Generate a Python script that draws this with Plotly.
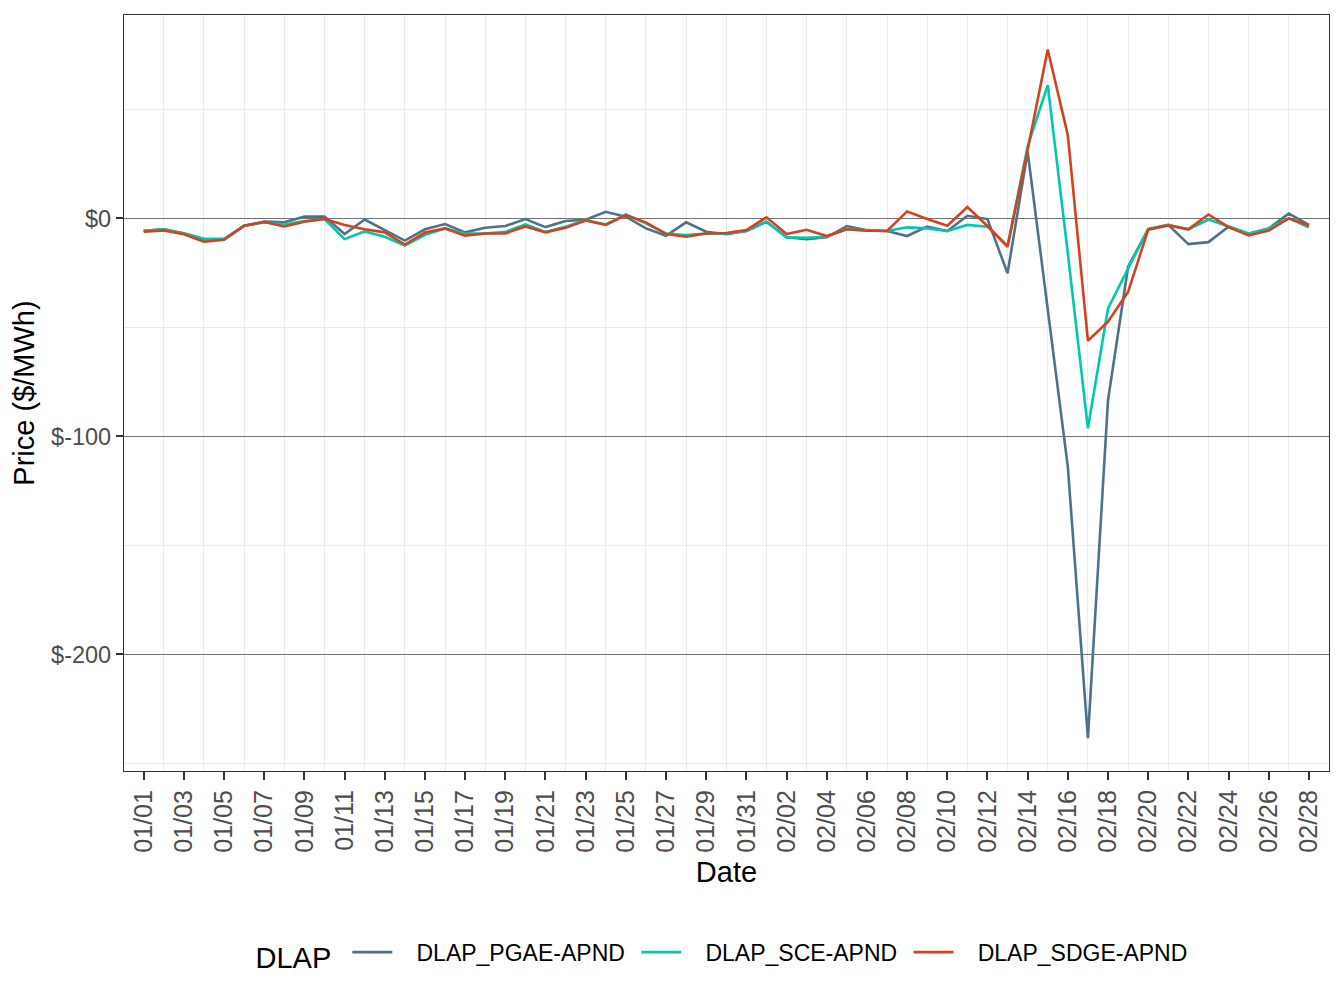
import pandas as pd
import plotly.graph_objects as go

# ---------- data (daily prices, $/MWh) ----------
dates = pd.date_range("2021-01-01", "2021-02-28", freq="D")

pgae = [
    -5.7, -5.0, -6.8, -9.5, -9.5, -3.4, -1.5, -1.8, 0.8, 0.8,
    -7.2, -0.5, -5.4, -10.2, -5.0, -2.6, -6.4, -4.3, -3.5, -0.3,
    -4.0, -1.2, -0.6, 3.0, 0.8, -4.6, -8.0, -1.8, -6.1, -7.3,
    -5.8, -1.5, -8.7, -9.5, -8.7, -3.5, -5.4, -5.8, -8.1, -3.8,
    -5.8, 1.2, -0.3, -25.2, 30.6, -42.0, -114.0, -238.4, -83.4, -22.2,
    -5.0, -3.0, -11.8, -10.9, -3.8, -7.0, -4.6, 2.2, -3.0,
]
sce = [
    -5.7, -5.0, -7.0, -9.5, -9.5, -3.4, -1.8, -2.8, -1.2, -0.3,
    -9.5, -6.0, -8.4, -12.5, -7.5, -4.6, -7.0, -6.9, -6.2, -2.8,
    -6.2, -3.8, -0.8, -2.8, 1.8, -2.3, -6.9, -7.6, -6.9, -7.0,
    -5.8, -1.5, -8.7, -8.9, -8.4, -4.9, -5.5, -5.8, -4.1, -4.6,
    -5.8, -3.0, -3.8, -12.5, 33.0, 61.1, -16.0, -96.3, -41.3, -23.0,
    -4.8, -3.0, -5.0, -0.5, -3.8, -6.9, -4.6, 0.0, -4.1,
]
sdge = [
    -6.1, -5.5, -7.3, -10.7, -9.8, -3.4, -1.7, -3.7, -1.5, -0.3,
    -3.0, -5.0, -6.4, -12.0, -6.5, -4.6, -7.9, -6.9, -6.9, -3.7,
    -6.4, -4.3, -1.0, -3.0, 1.5, -1.8, -7.2, -8.4, -6.9, -6.7,
    -5.4, 0.5, -7.2, -5.2, -8.1, -5.0, -5.7, -5.8, 3.2, -0.3,
    -3.4, 5.2, -3.5, -13.0, 31.5, 77.5, 38.2, -56.1, -47.4, -33.7,
    -5.2, -3.2, -5.0, 1.8, -4.0, -7.8, -5.6, 0.0, -3.3,
]

series_names = ["DLAP_PGAE-APND", "DLAP_SCE-APND", "DLAP_SDGE-APND"]
series_colors = ["#4E7389", "#00C8B0", "#D4411E"]

y_tickvals = [0, -100, -200]
y_ticktext = ["$0", "$-100", "$-200"]
y_minorvals = [50, -50, -150, -250]

FONT = "Liberation Sans, Arial, sans-serif"
NB = "\u00a0"  # legend spacing, ggplot keys sit further from their labels


def build_figure():
    fig = go.Figure()
    for name, vals, col in zip(series_names, [pgae, sce, sdge], series_colors):
        fig.add_trace(
            go.Scatter(
                x=dates,
                y=vals,
                mode="lines",
                name=NB * 3 + name + NB,
                line=dict(color=col, width=2.6),
            )
        )

    day = pd.Timedelta(days=1)
    x_range = [dates[0] - 0.98 * day, dates[0] + 59.0 * day]

    # page body has an 8px margin, so the figure is a bit smaller than the window
    fig.update_layout(
        width=1336,
        height=1000,
        margin=dict(l=116, r=15, t=7, b=237),
        paper_bgcolor="white",
        plot_bgcolor="white",
        font=dict(family=FONT, size=23, color="black"),
        legend=dict(
            orientation="h",
            x=0.5,
            xanchor="center",
            y=-0.243,
            yanchor="middle",
            title=dict(text="DLAP" + NB, font=dict(size=29), side="left"),
            font=dict(size=23, color="black"),
            itemwidth=40,
        ),
    )
    fig.update_xaxes(
        type="date",
        range=x_range,
        tick0=dates[0],
        dtick=2 * 86400000,
        tickformat="%m/%d",
        tickangle=-90,
        tickfont=dict(size=25, color="#4D4D4D"),
        ticks="outside",
        ticklen=8,
        tickwidth=1.5,
        tickcolor="#333333",
        showgrid=False,
        minor=dict(
            tick0=dates[1],
            dtick=2 * 86400000,
            showgrid=True,
            gridcolor="#EBEBEB",
            gridwidth=1.3,
            ticks="",
        ),
        showline=True,
        mirror=True,
        linecolor="#333333",
        linewidth=1.2,
        zeroline=False,
        title=dict(text="Date", font=dict(size=29, color="black"), standoff=10),
    )
    fig.update_yaxes(
        range=[-253.5, 93.3],
        tickvals=y_tickvals,
        ticktext=y_ticktext,
        tickfont=dict(size=23.5, color="#4D4D4D"),
        ticks="outside",
        ticklen=7,
        tickwidth=1.5,
        tickcolor="#333333",
        ticklabelstandoff=0,
        showgrid=True,
        gridcolor="#737373",
        gridwidth=1,
        minor=dict(
            tickvals=y_minorvals,
            showgrid=True,
            gridcolor="#EBEBEB",
            gridwidth=1.3,
            ticks="",
        ),
        showline=True,
        mirror=True,
        linecolor="#333333",
        linewidth=1.2,
        zeroline=False,
        title=dict(text="Price ($/MWh)", font=dict(size=29, color="black"), standoff=12),
    )
    return fig


def main():
    fig = build_figure()
    fig.write_html("out.html")


if __name__ == "__main__":
    main()
